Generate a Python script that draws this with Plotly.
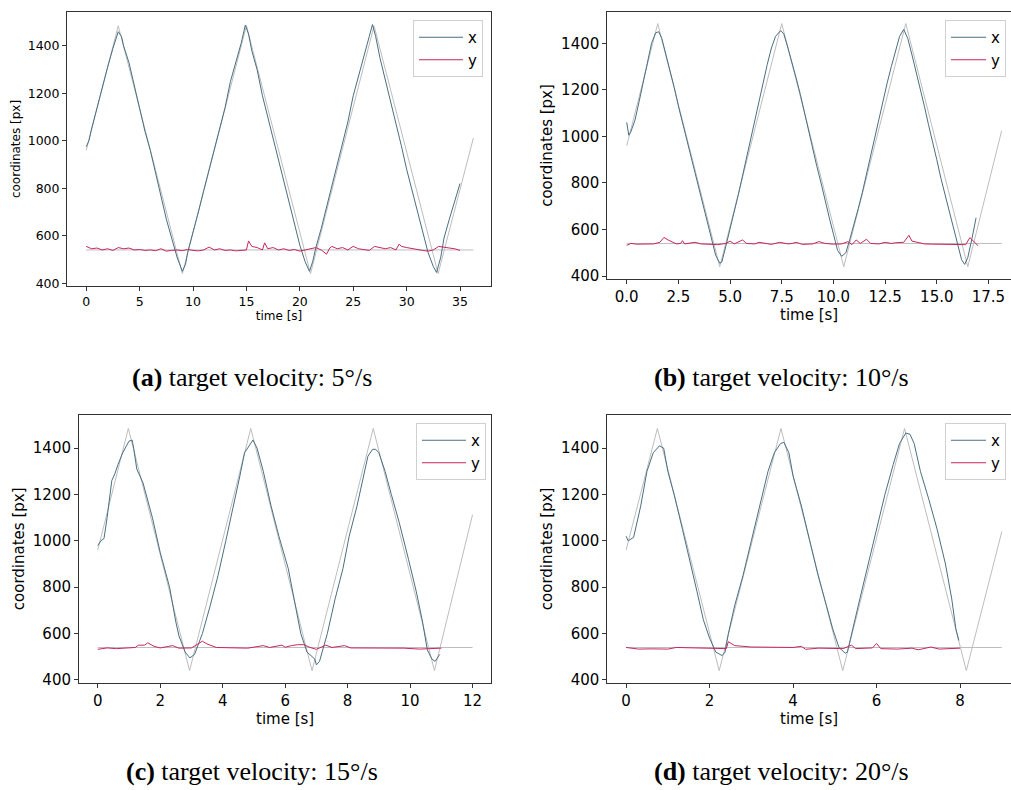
import plotly.graph_objects as go

W, H = 1011, 790

# ---------------- data ----------------
# target keyframes (triangle wave vertices) and horizontal target line
a_target_t = [0, 3.0, 9.0, 15.0, 21.0, 26.95, 32.95, 36.25]
a_target_v = [960, 1485, 440, 1485, 440, 1485, 440, 1012]
b_target_t = [0, 1.5, 4.5, 7.5, 10.5, 13.5, 16.5, 18.14]
b_target_v = [960, 1485, 440, 1485, 440, 1485, 440, 1025]
c_target_t = [0, 0.98, 2.94, 4.9, 6.86, 8.82, 10.78, 12.0]
c_target_v = [960, 1485, 440, 1485, 440, 1485, 440, 1113]
d_target_t = [0, 0.75, 2.23, 3.71, 5.19, 6.67, 8.15, 9.0]
d_target_v = [960, 1485, 440, 1485, 440, 1485, 440, 1040]
target_y_level = 540
target_end = [36.25, 18.14, 12.0, 9.0]

a_x_t = [0, 0.25, 0.5, 1.0, 1.5, 2.0, 2.5, 3.0, 3.3, 3.5, 4.0, 4.5, 5.0, 5.5, 6.0, 6.5, 7.0, 7.5, 8.0,
         8.5, 9.0, 9.3, 9.5, 10.0, 10.5, 11.0, 11.5, 12.0, 12.5, 13.0, 13.5, 14.0, 14.5, 14.9, 15.2,
         15.5, 16.0, 16.5, 17.0, 17.5, 18.0, 18.5, 19.0, 19.5, 20.0, 20.5, 20.9, 21.2, 21.5, 22.0,
         22.5, 23.0, 23.5, 24.0, 24.5, 25.0, 25.5, 26.0, 26.5, 26.8, 27.1, 27.5, 28.0, 28.5, 29.0,
         29.5, 30.0, 30.5, 31.0, 31.5, 32.0, 32.5, 32.8, 33.2, 33.5, 34.0, 34.5, 35.0]
a_x_v = [975, 1000, 1050, 1140, 1230, 1310, 1390, 1460, 1440, 1400, 1330, 1230, 1130, 1040, 960, 860,
         770, 670, 590, 510, 450, 480, 530, 610, 700, 790, 880, 960, 1050, 1140, 1250, 1330, 1410,
         1488, 1450, 1380, 1300, 1190, 1100, 1010, 920, 830, 740, 650, 560, 490, 450, 490, 550, 630,
         720, 810, 900, 990, 1080, 1190, 1270, 1360, 1440, 1490, 1440, 1350, 1260, 1160, 1070, 980,
         880, 790, 700, 610, 530, 470, 445, 510, 590, 670, 740, 820]

a_y_t = [0, 0.5, 1.0, 1.5, 2.0, 2.5, 3.0, 3.5, 4.0, 4.5, 5.0, 5.5, 6.0, 6.5, 7.0, 7.5, 8.0, 8.5, 9.0,
         9.5, 10.0, 10.5, 11.0, 11.5, 12.0, 12.5, 13.0, 13.5, 14.0, 14.5, 15.0, 15.2, 15.5, 16.0,
         16.5, 16.7, 17.0, 17.5, 18.0, 18.5, 19.0, 19.5, 20.0, 20.5, 21.0, 21.5, 22.0, 22.5, 22.8,
         23.0, 23.5, 24.0, 24.5, 25.0, 25.5, 26.0, 26.5, 27.0, 27.5, 28.0, 28.5, 29.0, 29.3, 29.5,
         30.0, 30.5, 31.0, 31.5, 32.0, 32.5, 33.0, 33.5, 34.0, 34.5, 35.0]
a_y_v = [555, 545, 548, 540, 545, 538, 550, 545, 548, 540, 542, 538, 540, 537, 545, 535, 538, 540,
         537, 542, 538, 536, 540, 552, 540, 545, 538, 540, 536, 538, 540, 578, 555, 550, 540, 570,
         545, 550, 540, 545, 538, 542, 535, 540, 545, 550, 540, 522, 548, 555, 545, 550, 540, 555,
         545, 540, 538, 555, 550, 545, 550, 540, 565, 555, 550, 545, 540, 538, 535, 540, 555, 550,
         548, 545, 538]

b_x_t = [0, 0.1, 0.2, 0.4, 0.6, 0.8, 1.0, 1.2, 1.4, 1.55, 1.7, 1.9, 2.1, 2.3, 2.5, 2.7, 2.9, 3.1,
         3.3, 3.5, 3.7, 3.9, 4.1, 4.3, 4.5, 4.6, 4.8, 5.0, 5.2, 5.4, 5.6, 5.8, 6.0, 6.2, 6.4, 6.6,
         6.8, 7.0, 7.2, 7.45, 7.6, 7.8, 8.0, 8.2, 8.4, 8.6, 8.8, 9.0, 9.2, 9.4, 9.6, 9.8, 10.0, 10.2,
         10.4, 10.6, 10.8, 11.0, 11.2, 11.4, 11.6, 11.8, 12.0, 12.2, 12.4, 12.6, 12.8, 13.0, 13.2,
         13.4, 13.6, 13.8, 14.0, 14.2, 14.4, 14.6, 14.8, 15.0, 15.2, 15.4, 15.6, 15.8, 16.0, 16.2,
         16.35, 16.5, 16.7, 16.9]
b_x_v = [1060, 1005, 1020, 1070, 1150, 1230, 1320, 1400, 1445, 1450, 1420, 1350, 1290, 1210, 1130,
         1060, 990, 910, 840, 780, 700, 630, 560, 490, 455, 460, 530, 600, 680, 750, 830, 910, 990,
         1070, 1160, 1240, 1310, 1380, 1430, 1455, 1440, 1380, 1320, 1250, 1180, 1100, 1020, 950,
         870, 800, 720, 650, 580, 510, 485, 500, 560, 620, 690, 760, 840, 920, 990, 1070, 1150, 1230,
         1300, 1370, 1430, 1460, 1420, 1350, 1280, 1210, 1130, 1050, 980, 900, 820, 750, 670, 600,
         530, 470, 450, 480, 560, 650]

b_y_t = [0, 0.2, 0.5, 0.8, 1.0, 1.3, 1.6, 1.8, 2.0, 2.2, 2.4, 2.6, 2.7, 2.8, 3.0, 3.3, 3.6, 4.0,
         4.4, 4.8, 5.0, 5.2, 5.6, 5.8, 6.2, 6.4, 6.8, 7.0, 7.4, 7.8, 8.0, 8.2, 8.5, 9.0, 9.3, 9.6,
         10.0, 10.4, 10.7, 10.9, 11.1, 11.3, 11.6, 11.8, 12.2, 12.5, 12.8, 13.0, 13.4, 13.65, 13.8,
         14.0, 14.4, 14.8, 15.2, 15.6, 16.0, 16.4, 16.6, 16.8, 17.0]
b_y_v = [532, 540, 537, 538, 540, 538, 545, 566, 555, 548, 538, 540, 552, 538, 542, 545, 538, 535,
         535, 540, 550, 538, 555, 540, 538, 545, 538, 536, 545, 538, 540, 545, 536, 538, 548, 540,
         537, 538, 548, 535, 555, 540, 558, 540, 538, 545, 540, 543, 545, 575, 550, 545, 538, 537,
         536, 537, 533, 535, 565, 548, 530]

c_x_t = [0, 0.1, 0.2, 0.3, 0.45, 0.55, 0.65, 0.8, 1.0, 1.1, 1.15, 1.25, 1.45, 1.75, 2.0, 2.3, 2.5,
         2.6, 2.8, 2.95, 3.1, 3.35, 3.6, 3.85, 4.1, 4.35, 4.55, 4.7, 4.8, 4.97, 5.1, 5.3, 5.55, 5.8,
         6.1, 6.3, 6.5, 6.7, 6.95, 7.0, 7.1, 7.35, 7.6, 7.85, 8.05, 8.3, 8.5, 8.65, 8.8, 8.9, 9.0,
         9.2, 9.4, 9.65, 9.95, 10.2, 10.4, 10.55, 10.7, 10.8, 10.95]
c_x_v = [980, 1000, 1010, 1100, 1260, 1290, 1330, 1380, 1430, 1435, 1400, 1310, 1250, 1100, 950,
         800, 650, 590, 520, 495, 510, 600, 720, 850, 1000, 1150, 1280, 1380, 1400, 1435, 1400, 1300,
         1150, 1020, 880, 740, 600, 520, 490, 465, 480, 600, 750, 880, 1020, 1150, 1280, 1365, 1395,
         1395, 1380, 1300, 1200, 1080, 920, 780, 650, 530, 490, 480, 510]

c_y_t = [0, 0.3, 0.6, 0.9, 1.2, 1.3, 1.5, 1.6, 1.8, 2.0, 2.4, 2.6, 3.0, 3.35, 3.5, 3.8, 4.2, 4.8,
         5.3, 5.5, 5.9, 6.0, 6.2, 6.4, 6.6, 6.8, 7.0, 7.3, 7.5, 7.9, 8.1, 8.6, 9.3, 9.8, 10.3, 10.7,
         11.0]
c_y_v = [532, 538, 535, 537, 540, 550, 550, 560, 545, 538, 548, 537, 538, 567, 555, 540, 538, 537,
         548, 540, 550, 541, 548, 552, 552, 540, 532, 550, 540, 548, 538, 538, 540, 537, 533, 535,
         537]

d_x_t = [0, 0.05, 0.18, 0.35, 0.5, 0.65, 0.8, 0.9, 1.0, 1.15, 1.35, 1.55, 1.7, 1.85, 2.0, 2.15,
         2.3, 2.37, 2.45, 2.6, 2.8, 3.0, 3.2, 3.4, 3.55, 3.7, 3.78, 3.9, 4.0, 4.2, 4.4, 4.6, 4.8,
         4.95, 5.1, 5.25, 5.3, 5.4, 5.6, 5.8, 6.0, 6.2, 6.4, 6.55, 6.7, 6.8, 6.9, 7.05, 7.25, 7.45,
         7.65, 7.8, 7.9, 7.97]
d_x_v = [1020, 1000, 1015, 1150, 1300, 1380, 1410, 1400, 1300, 1200, 1050, 900, 780, 660, 580, 520,
         505, 520, 600, 720, 850, 1000, 1150, 1300, 1380, 1420, 1425, 1380, 1280, 1150, 1000, 850,
         720, 620, 540, 515, 520, 600, 750, 900, 1050, 1200, 1330, 1420, 1465, 1460, 1420, 1300,
         1180, 1050, 900, 750, 620, 570]

d_y_t = [0, 0.3, 0.6, 1.0, 1.2, 1.6, 2.0, 2.4, 2.45, 2.6, 3.0, 3.5, 4.0, 4.2, 4.3, 4.6, 5.2, 5.4,
         5.5, 5.9, 6.0, 6.1, 6.5, 6.85, 7.0, 7.3, 7.5, 8.0]
d_y_v = [540, 533, 534, 533, 540, 538, 535, 535, 565, 548, 542, 540, 540, 545, 532, 537, 535, 550,
         535, 538, 557, 535, 533, 537, 530, 542, 533, 537]

x_ticks = [[0, 5, 10, 15, 20, 25, 30, 35], [0, 2.5, 5, 7.5, 10, 12.5, 15, 17.5],
           [0, 2, 4, 6, 8, 10, 12], [0, 2, 4, 6, 8]]
x_tick_text = [["0", "5", "10", "15", "20", "25", "30", "35"],
               ["0.0", "2.5", "5.0", "7.5", "10.0", "12.5", "15.0", "17.5"],
               ["0", "2", "4", "6", "8", "10", "12"], ["0", "2", "4", "6", "8"]]
y_ticks = [400, 600, 800, 1000, 1200, 1400]
captions = ["<b>(a)</b> target velocity: 5°/s", "<b>(b)</b> target velocity: 10°/s",
            "<b>(c)</b> target velocity: 15°/s", "<b>(d)</b> target velocity: 20°/s"]
x_label = "time [s]"
y_label = "coordinates [px]"

# ---------------- layout geometry (pixels) ----------------
panels = [
    dict(l=67, r=491, t=12, b=286, xr=[-1.8, 37.9], yr=[388, 1543], fs=12.5, tfs=12),
    dict(l=607.3, r=W, t=11.7, b=279.3, xr=[-0.94, 18.59], yr=[386, 1536], fs=15, tfs=15),
    dict(l=79, r=491.3, t=415, b=682.7, xr=[-0.6, 12.6], yr=[388, 1543], fs=15, tfs=15),
    dict(l=607.3, r=W, t=415, b=682.7, xr=[-0.45, 9.22], yr=[388, 1543], fs=15, tfs=15),
]
legend_pos = [(413, 20), (945, 20), (416, 423), (945, 423)]
legend_itemwidth = [44, 35, 44, 35]
caption_pos = [(252, 377), (781, 377), (252, 771), (781, 771)]

data = [
    (a_target_t, a_target_v, a_x_t, a_x_v, a_y_t, a_y_v),
    (b_target_t, b_target_v, b_x_t, b_x_v, b_y_t, b_y_v),
    (c_target_t, c_target_v, c_x_t, c_x_v, c_y_t, c_y_v),
    (d_target_t, d_target_v, d_x_t, d_x_v, d_y_t, d_y_v),
]

X_COLOR = "#4a6e80"
Y_COLOR = "#c8265e"
T_COLOR = "#bdbdbd"
FONT = "DejaVu Sans"

fig = go.Figure()
layout = dict(width=W, height=H, margin=dict(l=0, r=0, t=0, b=0, autoexpand=False),
              paper_bgcolor="white", plot_bgcolor="white", showlegend=True,
              annotations=[])


def suffix(i):
    return "" if i == 0 else str(i + 1)


# target traces first (drawn underneath)
for i, d in enumerate(data):
    n = suffix(i)
    tt, tv = d[0], d[1]
    fig.add_trace(go.Scatter(x=tt, y=tv, mode="lines", line=dict(color=T_COLOR, width=1),
                             xaxis="x" + n, yaxis="y" + n, showlegend=False, hoverinfo="skip"))
    fig.add_trace(go.Scatter(x=[0, target_end[i]], y=[target_y_level, target_y_level], mode="lines",
                             line=dict(color=T_COLOR, width=1), xaxis="x" + n, yaxis="y" + n,
                             showlegend=False, hoverinfo="skip"))

# measured traces
for i, d in enumerate(data):
    n = suffix(i)
    leg = "legend" + n
    xt, xv, yt, yv = d[2], d[3], d[4], d[5]
    fig.add_trace(go.Scatter(x=xt, y=xv, mode="lines", name="x", line=dict(color=X_COLOR, width=1),
                             xaxis="x" + n, yaxis="y" + n, legend=leg))
    fig.add_trace(go.Scatter(x=yt, y=yv, mode="lines", name="y", line=dict(color=Y_COLOR, width=1),
                             xaxis="x" + n, yaxis="y" + n, legend=leg))

for i, p in enumerate(panels):
    n = suffix(i)
    xa, ya = "x" + n, "y" + n
    leg = "legend" + n
    right_clipped = p["r"] >= W
    layout["xaxis" + n] = dict(
        domain=[p["l"] / W, p["r"] / W], range=p["xr"], anchor=ya, automargin=False,
        tickvals=x_ticks[i], ticktext=x_tick_text[i], ticks="outside", ticklen=4,
        tickcolor="#333", showline=True, linecolor="#333", linewidth=1, mirror=True,
        showgrid=False, zeroline=False,
        tickfont=dict(family=FONT, size=p["fs"], color="black"),
        title=dict(text=x_label, font=dict(family=FONT, size=p["tfs"], color="black"), standoff=2))
    layout["yaxis" + n] = dict(
        domain=[1 - p["b"] / H, 1 - p["t"] / H], range=p["yr"], anchor=xa, automargin=False,
        tickvals=y_ticks, ticks="outside", ticklen=4, tickcolor="#333",
        showline=True, linecolor="#333", linewidth=1, mirror=(not right_clipped),
        showgrid=False, zeroline=False,
        tickfont=dict(family=FONT, size=p["fs"], color="black"),
        title=dict(text=y_label, font=dict(family=FONT, size=p["tfs"], color="black"), standoff=4))
    lx, ly = legend_pos[i]
    layout[leg] = dict(x=lx / W, y=1 - ly / H, xanchor="left", yanchor="top",
                       bgcolor="rgba(255,255,255,0.85)", bordercolor="#d0d0d0", borderwidth=1,
                       font=dict(family=FONT, size=15, color="black"),
                       itemwidth=legend_itemwidth[i], tracegroupgap=0)
    cx, cy = caption_pos[i]
    layout["annotations"].append(dict(
        text=captions[i], x=cx / W, y=1 - cy / H, xref="paper", yref="paper",
        xanchor="center", yanchor="middle", showarrow=False,
        font=dict(family="Liberation Serif", size=26, color="black")))

fig.update_layout(**layout)
fig.write_html("out.html", config={"displayModeBar": False},
               post_script="document.body.style.margin='0';document.body.style.overflow='hidden';")
